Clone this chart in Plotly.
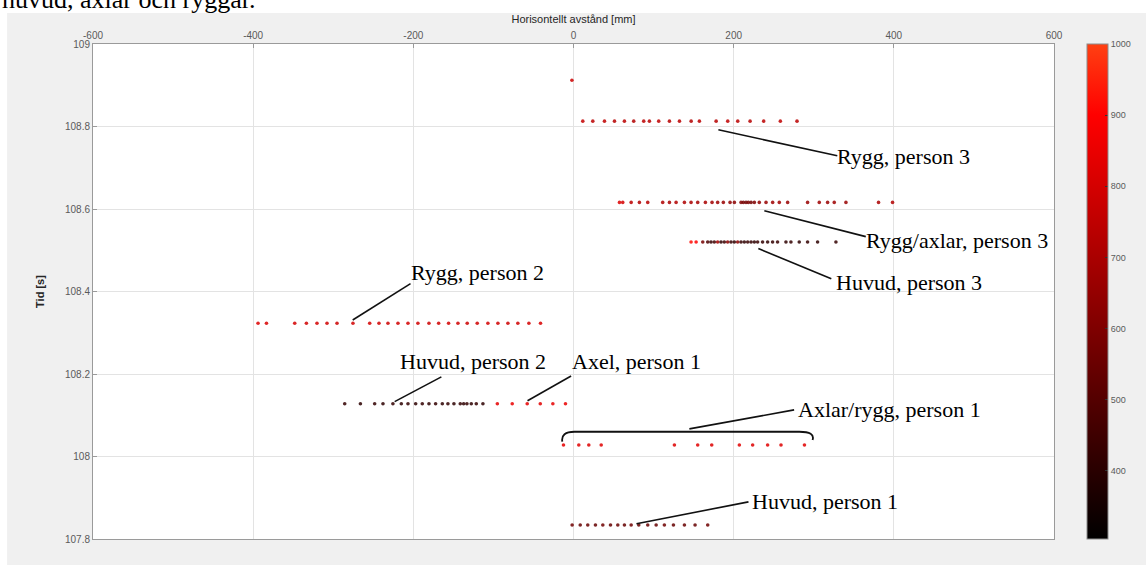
import plotly.graph_objects as go

# Horizontal distance [mm], time [s] and intensity for each detected row of points
row_a_x = [-2]
row_a_t = 108.912
row_a_v = [780]

row_b_x = [11.6, 24.1, 38.7, 51.2, 63.6, 75.2, 87.7, 94.8, 106.4, 119.8, 132.3, 146.9,
           157.2, 178.1, 192.6, 205.1, 220.5, 237.5, 258.3, 279.1]
row_b_t = 108.813
row_b_v = [760, 740, 750, 730, 740, 720, 740, 730, 750, 730, 740, 720,
           740, 730, 750, 740, 730, 740, 750, 740]

row_c_x = [57.4, 61.5, 72, 82.3, 92.7, 111.4, 119.8, 128.1, 138.5, 146.8, 155.1, 164.7,
           173, 180, 187.1, 195.5, 200.9, 209.2, 212.1, 215.4, 218.3, 221.7, 225.8, 232,
           240.4, 248.7, 257, 267.4, 292.3, 306.9, 317.3, 325.6, 340.2, 380.9, 398.4]
row_c_t = 108.616
row_c_v = [820, 800, 740, 720, 730, 710, 700, 720, 710, 700, 690, 700,
           680, 670, 660, 640, 630, 600, 580, 560, 590, 570, 600, 640,
           660, 670, 680, 660, 660, 670, 660, 670, 660, 700, 720]

row_d_x = [146.8, 153.1, 161.4, 167.6, 171.7, 175.8, 180, 184.2, 188.3, 192.5, 196.7, 200.8,
           205, 209.2, 213.3, 217.5, 221.7, 225.8, 229.9, 236.1, 242.4, 248.6, 254.8, 265.3,
           271.5, 281.9, 292.3, 304.8, 327.7]
row_d_t = 108.52
row_d_v = [920, 900, 580, 480, 420, 450, 680, 410, 440, 620, 420, 410,
           620, 420, 410, 430, 420, 410, 430, 420, 410, 420, 430, 410,
           420, 410, 420, 410, 420]

row_e_x = [-393.9, -383.4, -348.1, -333.5, -320.3, -307.8, -295.3, -275.4, -254.5, -242.9,
           -231.7, -219.2, -206.7, -194.3, -180.5, -168.4, -156, -144.3, -132.7, -120.2,
           -106.9, -94.4, -81.9, -69.5, -55.7, -41.2]
row_e_t = 108.323
row_e_v = [820, 810, 800, 790, 800, 790, 780, 790, 800, 790,
           780, 790, 800, 790, 780, 790, 800, 790, 780, 790,
           800, 790, 780, 790, 800, 810]

row_f_x = [-285.7, -266.1, -248.3, -237.9, -225.5, -215, -206.7, -197.1, -188.8, -180.5,
           -172.2, -163.8, -156.8, -149.3, -141.4, -137.2, -133.1, -127.6, -121.4, -113.1,
           -95.1, -76.5, -57.8, -41.5, -25.8, -10]
row_f_t = 108.128
row_f_v = [420, 410, 420, 410, 420, 410, 420, 410, 420, 410,
           420, 410, 420, 410, 420, 410, 420, 410, 420, 410,
           840, 850, 840, 830, 840, 850]

row_g_x = [-12.5, 6.6, 19.1, 34.6, 126, 155.1, 172.6, 207.1, 223.7, 242.4, 259.1, 288.4]
row_g_t = 108.028
row_g_v = [840, 830, 820, 830, 820, 830, 820, 830, 820, 830, 820, 830]

row_h_x = [-1.7, 8.4, 17.8, 27.4, 36.6, 46.2, 55.3, 63.6, 72, 81.5, 92.7, 103.2,
           113.5, 124.8, 138.5, 151.8, 167.6]
row_h_t = 107.834
row_h_v = [560, 540, 550, 540, 560, 540, 550, 540, 560, 540, 550, 540,
           560, 540, 550, 540, 560]

rows = [
    (row_a_x, row_a_t, row_a_v),
    (row_b_x, row_b_t, row_b_v),
    (row_c_x, row_c_t, row_c_v),
    (row_d_x, row_d_t, row_d_v),
    (row_e_x, row_e_t, row_e_v),
    (row_f_x, row_f_t, row_f_v),
    (row_g_x, row_g_t, row_g_v),
    (row_h_x, row_h_t, row_h_v),
]

x_ticks = [-600, -400, -200, 0, 200, 400, 600]
x_tick_text = ["-600", "-400", "-200", "0", "200", "400", "600"]
y_ticks = [107.8, 108.0, 108.2, 108.4, 108.6, 108.8, 109.0]
y_tick_text = ["107.8", "108", "108.2", "108.4", "108.6", "108.8", "109"]
cbar_ticks = [400, 500, 600, 700, 800, 900, 1000]
c_min, c_max = 304, 1000

# Labels: text, label anchor (mm, s), leader line start (mm, s), leader line end (mm, s)
labels = [
    ("Rygg, person 3", (326.9, 108.7266), (180.9, 108.792), (329.4, 108.729)),
    ("Rygg/axlar, person 3", (363.0, 108.523), (238.3, 108.596), (365.0, 108.533)),
    ("Huvud, person 3", (325.6, 108.421), (230.8, 108.504), (321.9, 108.431)),
    ("Rygg, person 2", (-206.0, 108.4455), (-275.7, 108.331), (-203.5, 108.419)),
    ("Huvud, person 2", (-219.0, 108.2298), (-223.3, 108.133), (-165.0, 108.193)),
    ("Axel, person 1", (-5.0, 108.2298), (-57.4, 108.135), (-3.0, 108.195)),
    ("Axlar/rygg, person 1", (278.0, 108.1135), (144.7, 108.067), (275.5, 108.113)),
    ("Huvud, person 1", (221.0, 107.8905), (78.6, 107.837), (218.5, 107.89)),
]

colorscale = [
    [0.0, "rgb(0,0,0)"],
    [(900 - c_min) / (c_max - c_min), "rgb(255,0,0)"],
    [1.0, "rgb(255,64,18)"],
]

fig = go.Figure()
for xs, t, vs in rows:
    fig.add_trace(go.Scatter(
        x=xs, y=[t] * len(xs), mode="markers",
        marker=dict(size=3.6, color=vs, coloraxis="coloraxis", opacity=0.85,
                    line=dict(width=0)),
        showlegend=False, hoverinfo="skip",
    ))

shapes = []
annotations = []
for text, (tx, ty), (lx0, ly0), (lx1, ly1) in labels:
    shapes.append(dict(type="line", xref="x", yref="y", x0=lx0, y0=ly0, x1=lx1, y1=ly1,
                       line=dict(color="#111111", width=1.6)))
    annotations.append(dict(text=text, x=tx, y=ty, xref="x", yref="y",
                            xanchor="left", yanchor="middle", showarrow=False,
                            font=dict(family="Liberation Serif", size=22, color="#000000")))

# curved bracket grouping the shoulder/back points of person 1
shapes.append(dict(type="path", xref="x", yref="y",
                   path="M -14,108.036 Q -16,108.06 1.2,108.06 L 282,108.06 Q 302,108.06 298.5,108.04",
                   line=dict(color="#111111", width=1.8)))

# white page strips outside the figure window
shapes.append(dict(type="rect", xref="paper", yref="paper", x0=-0.2, x1=1.2,
                   y0=1.0626, y1=1.3, fillcolor="white", line=dict(width=0), layer="above"))
shapes.append(dict(type="rect", xref="paper", yref="paper", x0=-0.2, x1=-0.0894,
                   y0=-0.2, y1=1.3, fillcolor="white", line=dict(width=0), layer="above"))

annotations.append(dict(text="huvud, axlar och ryggar.", xref="paper", yref="paper",
                        x=-0.0967, y=1.0566, xanchor="left", yanchor="bottom",
                        showarrow=False,
                        font=dict(family="Liberation Serif", size=26, color="#000000")))

fig.update_layout(
    width=1146, height=565,
    margin=dict(l=93, r=91, t=44, b=26),
    paper_bgcolor="#f0f0f0", plot_bgcolor="white",
    font=dict(family="Liberation Sans", size=10, color="#5a5a5a"),
    shapes=shapes, annotations=annotations,
    coloraxis=dict(
        cmin=c_min, cmax=c_max, colorscale=colorscale,
        colorbar=dict(
            x=1.0333, xanchor="left", xpad=0, ypad=0, y=0.5, yanchor="middle",
            len=1.0, lenmode="fraction", thickness=21,
            outlinecolor="#8c8c8c", outlinewidth=1,
            tickvals=cbar_ticks, ticks="inside", ticklen=3, tickcolor="#333333",
            tickfont=dict(family="Liberation Sans", size=9, color="#5a5a5a"),
        ),
    ),
    xaxis=dict(
        range=[-600, 600], side="top", tickvals=x_ticks, ticktext=x_tick_text,
        showgrid=True, gridcolor="#e3e3e3", gridwidth=1, zeroline=False,
        showline=True, linecolor="#9a9a9a", linewidth=1, mirror=True,
        ticks="inside", ticklen=4, tickcolor="#9a9a9a",
        tickfont=dict(size=10, color="#5a5a5a"),
        title=dict(text="Horisontellt avstånd [mm]", standoff=4,
                   font=dict(size=11, color="#262626")),
    ),
    yaxis=dict(
        range=[107.8, 109.0], tickvals=y_ticks, ticktext=y_tick_text,
        showgrid=True, gridcolor="#e3e3e3", gridwidth=1, zeroline=False,
        showline=True, linecolor="#9a9a9a", linewidth=1, mirror=True,
        ticks="inside", ticklen=4, tickcolor="#9a9a9a",
        tickfont=dict(size=10, color="#5a5a5a"),
        title=dict(text="<b>Tid [s]</b>", standoff=18,
                   font=dict(size=11, color="#262626")),
    ),
)

fig.write_html("out.html")
